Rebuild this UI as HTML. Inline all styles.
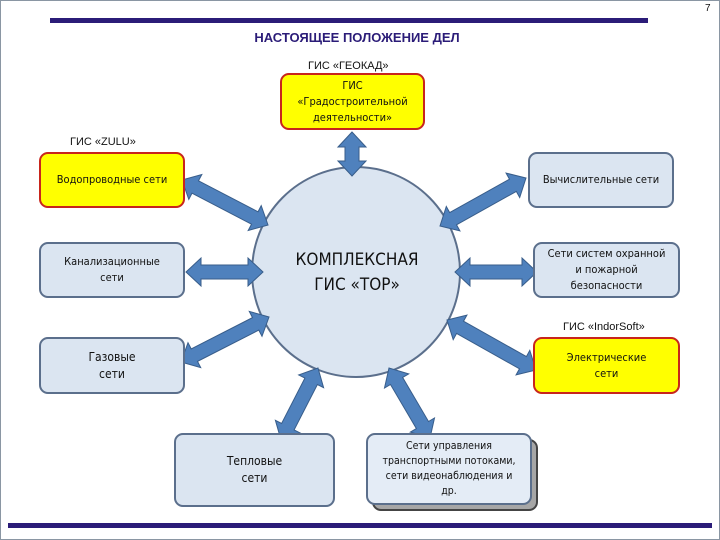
<!DOCTYPE html>
<html><head><meta charset="utf-8">
<style>
body{margin:0;width:720px;height:540px;overflow:hidden;background:#fff;font-family:"Liberation Sans",sans-serif;}
.b{position:absolute;box-sizing:border-box;border-radius:9px;border:2px solid #5b6f8c;background:#dbe5f1;display:flex;align-items:center;justify-content:center;text-align:center;font-family:"DejaVu Sans Condensed","Liberation Sans Narrow","Liberation Sans",sans-serif;font-size:11px;line-height:16px;color:#111;}
.y{background:#ffff00;border-color:#c8251c;}
.t{position:absolute;font-size:11px;color:#111;font-family:"Liberation Sans Narrow","Liberation Sans",sans-serif;}
</style></head><body>
<div style="position:absolute;left:0;top:0;width:718px;height:538px;border:1px solid #8a96a3;"></div>
<div class="t" style="left:705px;top:3px;font-size:10px">7</div>
<div style="position:absolute;left:50px;top:18px;width:598px;height:5px;background:#2b1c78"></div>
<div style="position:absolute;left:0;width:714px;top:30px;text-align:center;font-weight:bold;font-size:13px;color:#2b1c78;">НАСТОЯЩЕЕ ПОЛОЖЕНИЕ ДЕЛ</div>
<div class="t" style="left:308px;top:60px">ГИС «ГЕОКАД»</div>
<div class="t" style="left:70px;top:136px">ГИС «ZULU»</div>
<div class="t" style="left:563px;top:321px">ГИС «IndorSoft»</div>
<svg width="720" height="540" style="position:absolute;left:0;top:0">
<ellipse cx="356" cy="272" rx="104" ry="105" fill="#dbe5f1" stroke="#5b6f8c" stroke-width="2"/>
<g id="ar" fill="#4f81bd" stroke="#385d8a" stroke-width="1"></g>
</svg>
<div style="position:absolute;left:253px;top:248px;width:208px;text-align:center;font-family:'DejaVu Sans Condensed','Liberation Sans',sans-serif;font-size:17px;line-height:25px;color:#111">КОМПЛЕКСНАЯ<br>ГИС «ТОР»</div>
<div class="b y" style="left:280px;top:73px;width:145px;height:57px">ГИС<br>«Градостроительной<br>деятельности»</div>
<div class="b y" style="left:39px;top:152px;width:146px;height:56px">Водопроводные сети</div>
<div class="b" style="left:528px;top:152px;width:146px;height:56px">Вычислительные сети</div>
<div class="b" style="left:39px;top:242px;width:146px;height:56px">Канализационные<br>сети</div>
<div class="b" style="left:533px;top:242px;width:147px;height:56px">Сети систем охранной<br>и пожарной<br>безопасности</div>
<div class="b" style="left:39px;top:337px;width:146px;height:57px;font-size:12px;line-height:17px">Газовые<br>сети</div>
<div class="b y" style="left:533px;top:337px;width:147px;height:57px">Электрические<br>сети</div>
<div class="b" style="left:174px;top:433px;width:161px;height:74px;font-size:12px;line-height:17px">Тепловые<br>сети</div>
<div class="b" style="left:372px;top:439px;width:166px;height:72px;background:#a6a6a6;border-color:#444"></div>
<div class="b" style="left:366px;top:433px;width:166px;height:72px;background:#e4ecf6;font-size:10.5px;line-height:15px">Сети управления<br>транспортными потоками,<br>сети видеонаблюдения и<br>др.</div>
<div style="position:absolute;left:8px;top:523px;width:704px;height:5px;background:#2b1c78"></div>
<script>
var A=[[352,132,352,176],[182,180,268,225],[526,178,440,226],[186,272,263,272],[455,272,537,272],[181,362,269,317],[447,320,536,370],[318,368,281,440],[389,368,430,438]];
var g=document.getElementById('ar'),s='';
A.forEach(function(a){var x1=a[0],y1=a[1],x2=a[2],y2=a[3],dx=x2-x1,dy=y2-y1,L=Math.hypot(dx,dy),ux=dx/L,uy=dy/L,nx=-uy,ny=ux,w=7,h=14,hl=15;
function p(t,o){return (x1+ux*t+nx*o).toFixed(1)+','+(y1+uy*t+ny*o).toFixed(1);}
var pts=[p(0,0),p(hl,h),p(hl,w),p(L-hl,w),p(L-hl,h),p(L,0),p(L-hl,-h),p(L-hl,-w),p(hl,-w),p(hl,-h)];
s+='<polygon points="'+pts.join(' ')+'"/>';});
g.innerHTML=s;
</script>
</body></html>
